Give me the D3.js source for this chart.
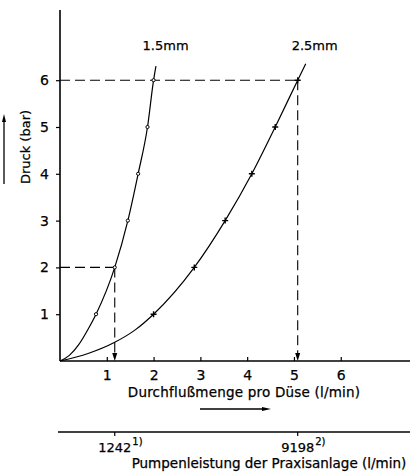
<!DOCTYPE html>
<html><head><meta charset="utf-8">
<script src="https://cdn.jsdelivr.net/npm/d3@7"></script>
<style>
html,body{margin:0;padding:0;background:#fff;}
svg{display:block;}
text{font-family:"DejaVu Sans",sans-serif;fill:#000;stroke:#000;stroke-width:0.25px;}
</style></head>
<body><svg id="c" width="410" height="474"></svg>
<script>
// ---- data ----
const pressureTicks = [1, 2, 3, 4, 5, 6];
const flowTicks = [1, 2, 3, 4, 5, 6];
// curve readings (flow l/min, pressure bar); measured points are pressure 1..6
const nozzle15Flow = [0, 0.2, 0.4, 0.6, 0.77, 1.17, 1.45, 1.67, 1.87, 2.0, 2.05];
const nozzle15Pressure = [0, 0.12, 0.35, 0.68, 1, 2, 3, 4, 5, 6, 6.3];
const nozzle25Flow = [0, 0.6, 1.17, 1.6, 2.0, 2.87, 3.53, 4.1, 4.6, 5.08, 5.25];
const nozzle25Pressure = [0, 0.16, 0.4, 0.66, 1, 2, 3, 4, 5, 6, 6.35];
const markerPressures = [1, 2, 3, 4, 5, 6];
const seriesLabels = ["1.5mm", "2.5mm"];
const guideFlow = [1.17, 5.08];
const guidePressure = [2, 6];
const pumpTickPos = [1.17, 5.08];
const pumpTickLabels = ["1242", "9198"];
const pumpTickNotes = ["1)", "2)"];
const yTitle = "Druck (bar)";
const xTitle = "Durchflußmenge pro Düse (l/min)";
const pumpTitle = "Pumpenleistung der Praxisanlage (l/min)";

const svg = d3.select("#c");
const x = d3.scaleLinear().domain([0, 7.48]).range([60, 410]);
const y = d3.scaleLinear().domain([0, 7.5]).range([361, 10]);
const ink = "#000";

// axes lines
svg.append("line").attr("x1", x(0)).attr("x2", x(0)).attr("y1", y(7.5)).attr("y2", y(0))
  .attr("stroke", ink).attr("stroke-width", 1.6);
svg.append("line").attr("x1", x(0)).attr("x2", x(7.48)).attr("y1", y(0)).attr("y2", y(0))
  .attr("stroke", ink).attr("stroke-width", 1.6);

const yAxis = svg.append("g").attr("transform", `translate(${x(0)},0)`)
  .call(d3.axisLeft(y).tickValues(pressureTicks).tickSize(4).tickPadding(7).tickFormat(d3.format("d")));
yAxis.select(".domain").remove();
yAxis.selectAll("line").attr("stroke", ink).attr("stroke-width", 1.2);
yAxis.selectAll("text").attr("font-size", 14).style("fill", ink).style("font-family", "DejaVu Sans");

const xAxis = svg.append("g").attr("transform", `translate(0,${y(0)})`)
  .call(d3.axisBottom(x).tickValues(flowTicks).tickSizeInner(-4).tickSizeOuter(0).tickPadding(9).tickFormat(d3.format("d")));
xAxis.select(".domain").remove();
xAxis.selectAll("line").attr("stroke", ink).attr("stroke-width", 1.2);
xAxis.selectAll("text").attr("font-size", 14).style("fill", ink).style("font-family", "DejaVu Sans");

// guides
const dash = "10,5";
guideFlow.forEach((q, i) => {
  const p = guidePressure[i];
  svg.append("line").attr("x1", x(0)).attr("x2", x(q)).attr("y1", y(p)).attr("y2", y(p))
    .attr("stroke", ink).attr("stroke-width", 1.1).attr("stroke-dasharray", dash);
  svg.append("line").attr("x1", x(q)).attr("x2", x(q)).attr("y1", y(p)).attr("y2", y(0) - 6)
    .attr("stroke", ink).attr("stroke-width", 1.1).attr("stroke-dasharray", dash);
  const ax = x(q), ay = y(0);
  svg.append("path").attr("d", `M${ax - 2.5},${ay - 8}L${ax + 2.5},${ay - 8}L${ax},${ay}Z`).attr("fill", ink);
});

// curves
const line = d3.line().x(d => x(d[0])).y(d => y(d[1])).curve(d3.curveMonotoneX);
const s15 = nozzle15Flow.map((q, i) => [q, nozzle15Pressure[i]]);
const s25 = nozzle25Flow.map((q, i) => [q, nozzle25Pressure[i]]);
[s15, s25].forEach(s => {
  svg.append("path").attr("d", line(s)).attr("fill", "none").attr("stroke", ink).attr("stroke-width", 1.2);
});
// markers
s15.filter(d => markerPressures.includes(d[1])).forEach(d => {
  svg.append("circle").attr("cx", x(d[0])).attr("cy", y(d[1])).attr("r", 1.6)
    .attr("fill", "#fff").attr("stroke", ink).attr("stroke-width", 1);
});
s25.filter(d => markerPressures.includes(d[1])).forEach(d => {
  const cx = x(d[0]), cy = y(d[1]);
  svg.append("path").attr("d", `M${cx - 3},${cy}H${cx + 3}M${cx},${cy - 3}V${cy + 3}`)
    .attr("stroke", ink).attr("stroke-width", 1.4);
});
// series labels
svg.append("text").attr("x", x(2.0) - 11).attr("y", 50).attr("font-size", 13).text(seriesLabels[0]);
svg.append("text").attr("x", x(5.08) - 6).attr("y", 50).attr("font-size", 13).text(seriesLabels[1]);

// y title + arrow
svg.append("text").attr("transform", "translate(30,147) rotate(-90)").attr("text-anchor", "middle")
  .attr("font-size", 13).text(yTitle);
svg.append("line").attr("x1", 4).attr("x2", 4).attr("y1", 120).attr("y2", 184).attr("stroke", ink).attr("stroke-width", 1.3);
svg.append("path").attr("d", "M2,122L6,122L4,114Z").attr("fill", ink);

// x title + arrow
svg.append("text").attr("x", 244).attr("y", 397).attr("text-anchor", "middle").attr("font-size", 13.5)
  .attr("letter-spacing", 0.2).text(xTitle);
svg.append("line").attr("x1", 200).attr("x2", 264).attr("y1", 409).attr("y2", 409).attr("stroke", ink).attr("stroke-width", 1.3);
svg.append("path").attr("d", "M262,407L262,411L271,409Z").attr("fill", ink);

// pump axis
const py = 432;
svg.append("line").attr("x1", 58).attr("x2", 410).attr("y1", py).attr("y2", py).attr("stroke", ink).attr("stroke-width", 1.6);
pumpTickPos.forEach((q, i) => {
  const tx = x(q);
  svg.append("line").attr("x1", tx).attr("x2", tx).attr("y1", py).attr("y2", py + 4).attr("stroke", ink).attr("stroke-width", 1.2);
  const t = svg.append("text").attr("x", tx).attr("y", 452).attr("text-anchor", "middle").attr("font-size", 13).text(pumpTickLabels[i]);
  const w = t.node().getComputedTextLength();
  svg.append("text").attr("x", tx + w / 2 + 1).attr("y", 445).attr("font-size", 10).text(pumpTickNotes[i]);
});
svg.append("text").attr("x", 269).attr("y", 468).attr("text-anchor", "middle").attr("font-size", 13.5).text(pumpTitle);
</script></body></html>
